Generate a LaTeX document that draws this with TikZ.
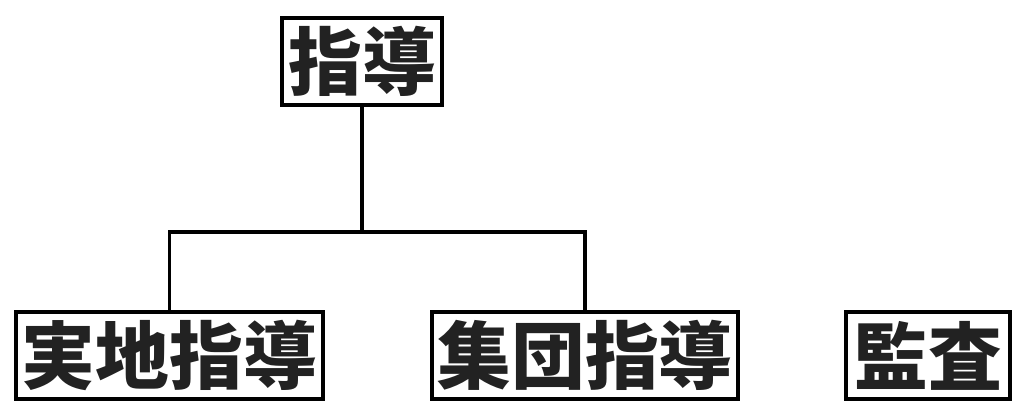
\documentclass[tikz,border=0pt]{standalone}
\usepackage{fontspec}
\newfontfamily\jpfont{Noto Sans CJK JP}
\usepackage{xcolor}
\definecolor{inkgray}{RGB}{34,34,34}
\usetikzlibrary{positioning}

\begin{document}
\begin{tikzpicture}[x=0.03cm, y=-0.03cm,
    box/.style={draw, rectangle, line width=3.4pt, inner sep=0pt,
    minimum height=2.61cm, text=inkgray,
    font=\jpfont\bfseries\fontsize{63}{70}\selectfont},
    link/.style={line width=2.6pt}]
            \useasboundingbox (0,0) rectangle (1024,419);

            \node[box, minimum width=4.8cm] (shido) at (362,61.5) {指導};
            \node[box, minimum width=9.2cm] (jitchi) at (169.5,355.5) {実地指導};
            \node[box, minimum width=9.2cm] (shudan) at (585,355.5) {集団指導};
            \node[box, minimum width=4.9cm] (kansa) at (928,355.5) {監査};

            \coordinate (fork) at (362,232);
            \draw[link] (shido) -- (fork);
            \draw[link] (jitchi.north) |- (fork) -| (shudan.north);
        \end{tikzpicture}
\end{document}
